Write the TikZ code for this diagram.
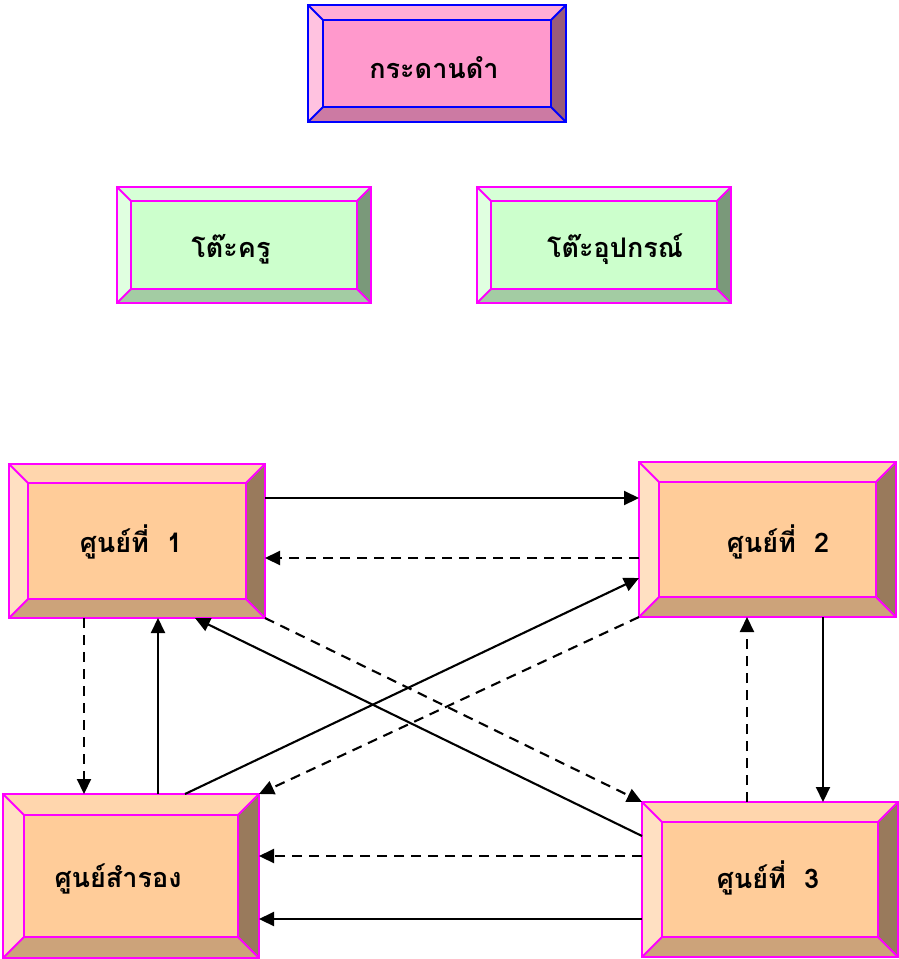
\documentclass[tikz,border=0pt]{standalone}
\usepackage{fontspec}
\newfontfamily\thaifont[Script=Thai]{Loma}
\usetikzlibrary{arrows.meta,calc,fit}
\definecolor{pk-c}{HTML}{FF99CC}\definecolor{pk-t}{HTML}{FFADD6}\definecolor{pk-l}{HTML}{FFC2E0}\definecolor{pk-r}{HTML}{995C7A}\definecolor{pk-b}{HTML}{CC7AA3}
\definecolor{gr-c}{HTML}{CCFFCC}\definecolor{gr-t}{HTML}{D6FFD6}\definecolor{gr-l}{HTML}{E0FFE0}\definecolor{gr-r}{HTML}{7A997A}\definecolor{gr-b}{HTML}{A3CCA3}
\definecolor{pc-c}{HTML}{FFCC99}\definecolor{pc-t}{HTML}{FFD6AD}\definecolor{pc-l}{HTML}{FFE0C2}\definecolor{pc-r}{HTML}{997A5C}\definecolor{pc-b}{HTML}{CCA37A}
\definecolor{bdblue}{HTML}{0000FF}\definecolor{bdmag}{HTML}{FF00FF}
\newcommand\bevbox[6]{%
  \coordinate (#1-a) at #2; \coordinate (#1-b) at #3;
  \node[fit=(#1-a)(#1-b), inner sep=0pt, outer sep=0pt] (#1) {};
  \coordinate (#1-i1) at ($(#1.north west)+(#4,#4)$);
  \coordinate (#1-i2) at ($(#1.north east)+(-#4,#4)$);
  \coordinate (#1-i3) at ($(#1.south east)+(-#4,-#4)$);
  \coordinate (#1-i4) at ($(#1.south west)+(#4,-#4)$);
  \fill[#5-t] (#1.north west) -- (#1.north east) -- (#1-i2) -- (#1-i1) -- cycle;
  \fill[#5-l] (#1.north west) -- (#1-i1) -- (#1-i4) -- (#1.south west) -- cycle;
  \fill[#5-r] (#1.north east) -- (#1.south east) -- (#1-i3) -- (#1-i2) -- cycle;
  \fill[#5-b] (#1.south west) -- (#1-i4) -- (#1-i3) -- (#1.south east) -- cycle;
  \fill[#5-c] (#1-i1) rectangle (#1-i3);
  \draw[#6, line width=1.8pt] (#1.north west) rectangle (#1.south east) (#1-i1) rectangle (#1-i3)
     (#1.north west) -- (#1-i1) (#1.north east) -- (#1-i2) (#1.south east) -- (#1-i3) (#1.south west) -- (#1-i4);
}
\tikzset{
  txt/.style={font=\thaifont\bfseries\fontsize{27}{32}\selectfont, anchor=base, inner sep=0pt},
  sol/.style={line width=2.1pt, -{Triangle[length=15pt,width=14pt]}},
  dsh/.style={sol, dash pattern=on 10pt off 7pt},
}
\begin{document}
\begin{tikzpicture}[x=1pt,y=-1pt]
\useasboundingbox (0,0) rectangle (899,959);
\bevbox{b0}{(308,5)}{(566,122)}{15}{pk}{bdblue}
\bevbox{b1}{(117,187)}{(371,303)}{14}{gr}{bdmag}
\bevbox{b2}{(477,187)}{(731,303)}{14}{gr}{bdmag}
\bevbox{c1}{(9,464)}{(265,618)}{19}{pc}{bdmag}
\bevbox{c2}{(639,462)}{(896,617)}{20}{pc}{bdmag}
\bevbox{cs}{(3,794)}{(259,958)}{21}{pc}{bdmag}
\bevbox{c3}{(642,802)}{(898,957)}{20}{pc}{bdmag}
\node[txt] (b0-t) at (434,78) {กระดานดำ};
\node[txt] (b1-t) at (231,257) {โต๊ะครู};
\node[txt] (b2-t) at (615,257) {โต๊ะอุปกรณ์};
\node[txt] (c1-t) at (131,552) {ศูนย์ที่\ \ 1};
\node[txt] (c2-t) at (778,552) {ศูนย์ที่\ \ 2};
\node[txt] (cs-t) at (118,887) {ศูนย์สำรอง};
\node[txt] (c3-t) at (768,888) {ศูนย์ที่\ \ 3};
% connectors
\draw[sol] (c1.east |- 0,498) -- (c2.west |- 0,498);
\draw[dsh] (c2.west |- 0,558) -- (c1.east |- 0,558);
\draw[sol] (185,0 |- cs.north) -- (c2.west |- 0,578);
\draw[dsh] (c2.south west) -- (cs.north east);
\draw[sol] (c3.west |- 0,836) -- (195,0 |- c1.south);
\draw[dsh] (c1.south east) -- (c3.north west);
\draw[dsh] (84,0 |- c1.south) -- (84,0 |- cs.north);
\draw[sol] (158,0 |- cs.north) -- (158,0 |- c1.south);
\draw[dsh] (747,0 |- c3.north) -- (747,0 |- c2.south);
\draw[sol] (823,0 |- c2.south) -- (823,0 |- c3.north);
\draw[dsh] (c3.west |- 0,856) -- (cs.east |- 0,856);
\draw[sol] (c3.west |- 0,919) -- (cs.east |- 0,919);
\end{tikzpicture}
\end{document}
